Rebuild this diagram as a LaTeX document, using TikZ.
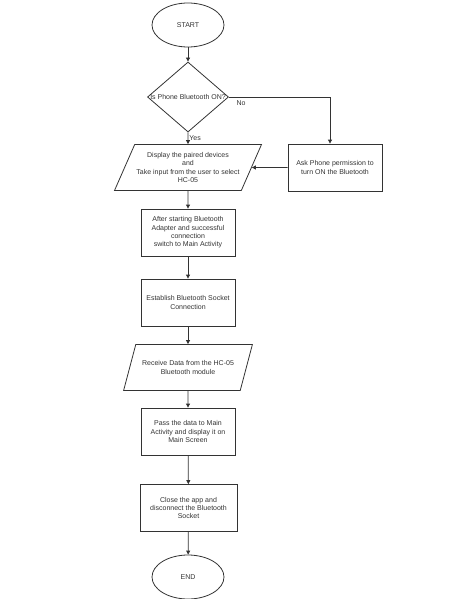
\documentclass[tikz,border=0pt]{standalone}
\usepackage{fontspec}
\setmainfont{Liberation Sans}
\usetikzlibrary{shapes.geometric,arrows.meta}

\begin{document}
\begin{tikzpicture}[x=1pt,y=-1pt,
	every node/.style={font=\fontsize{7}{8.3}\selectfont,text=black!80,align=center},
	termbox/.style={draw,ellipse,minimum width=72pt,minimum height=44pt},
	procbox/.style={draw,rectangle,minimum width=94pt,minimum height=47pt,inner sep=1pt},
	iobox/.style={draw,trapezium,trapezium left angle=62,trapezium right angle=118,trapezium stretches=true,inner xsep=0pt,minimum height=46pt},
	flow/.style={-{Triangle[length=4pt,width=4pt]}}]
		\useasboundingbox (0,0) rectangle (471,599);
		\draw[color=black!80, thick]
		node[termbox] (start) at (188, 25){START}
		node[draw,diamond,minimum width=81pt,minimum height=70pt,inner sep=0pt,label=center:{Is Phone Bluetooth ON?}] (quest) at (188, 97){}
		node[iobox,minimum width=147pt] (disp) at (188, 167.5){Display the paired devices\\and\\Take input from the user to select\\HC-05}
		node[procbox] (ask) at (335, 167.5){Ask Phone permission to\\turn ON the Bluetooth}
		node[procbox] (adapt) at (188, 232.5){After starting Bluetooth\\Adapter and successful\\connection\\switch to Main Activity}
		node[procbox] (sock) at (188, 302.5){Establish Bluetooth Socket\\Connection}
		node[iobox,minimum width=129pt] (recv) at (188, 367.5){Receive Data from the HC-05\\Bluetooth module}
		node[procbox] (pass) at (188, 431.5){Pass the data to Main\\Activity and display it on\\Main Screen}
		node[procbox,minimum width=97pt] (close) at (188.5, 508){Close the app and\\disconnect the Bluetooth\\Socket}
		node[termbox] (end) at (188, 577){END};
		\draw [flow, thick, black!80] (start) -- (quest);
		\draw [flow, thick, black!80] (quest) -- (disp) node[midway,right,inner sep=1pt] {Yes};
		\draw [flow, thick, black!80] (quest.east) -| (ask.north -| 330,0) node[pos=0.06,below] {No};
		\draw [flow, thick, black!80] (ask) -- (disp);
		\draw [flow, thick, black!80] (disp) -- (adapt);
		\draw [flow, thick, black!80] (adapt) -- (sock);
		\draw [flow, thick, black!80] (sock) -- (recv);
		\draw [flow, thick, black!80] (recv) -- (pass);
		\draw [flow, thick, black!80] (pass) -- (close);
		\draw [flow, thick, black!80] (close) -- (end);
\end{tikzpicture}
\end{document}
